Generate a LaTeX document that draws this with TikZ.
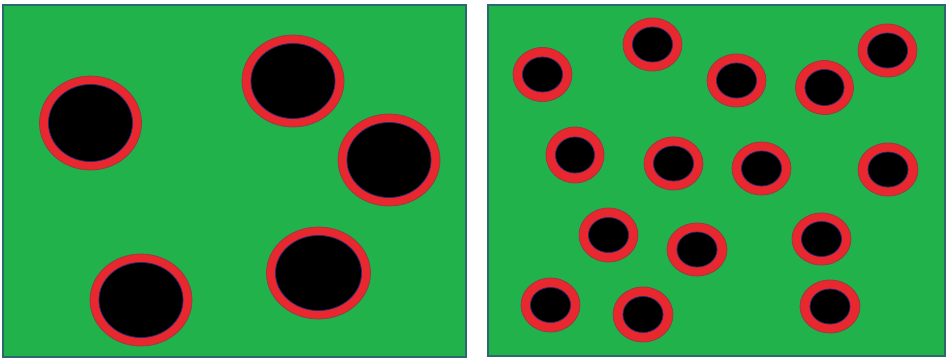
\documentclass[tikz,border=0pt]{standalone}
\definecolor{panelgreen}{RGB}{34,178,76}
\definecolor{paneledge}{RGB}{44,104,112}
\definecolor{ringred}{RGB}{232,40,46}
\definecolor{ringedge}{RGB}{150,60,70}
\definecolor{coreedge}{RGB}{40,40,110}
\begin{document}
\begin{tikzpicture}[x=1pt,y=-1pt,
    panel/.style={fill=panelgreen,draw=paneledge,line width=2pt},
    ring/.style={fill=ringred,draw=ringedge,line width=0.8pt},
    core/.style={fill=black,draw=coreedge,line width=0.8pt}]
    \useasboundingbox[fill=white] (0,0) rectangle (948,360);
    % Panels
    \draw[panel] (3,5) rectangle (466,357);
    \draw[panel] (488,5) rectangle (945,356);
    % Left panel: five large pores
    \draw[ring] (90.5,123) ellipse (51pt and 47pt);
    \draw[core] (90.5,123) ellipse (42pt and 38.5pt);
    \draw[ring] (293,81) ellipse (51pt and 46pt);
    \draw[core] (293,81) ellipse (42pt and 37.5pt);
    \draw[ring] (389,160) ellipse (51pt and 46pt);
    \draw[core] (389,160) ellipse (42pt and 37.5pt);
    \draw[ring] (141,300) ellipse (51pt and 46pt);
    \draw[core] (141,300) ellipse (42pt and 37.5pt);
    \draw[ring] (318.5,273) ellipse (52pt and 46pt);
    \draw[core] (318.5,273) ellipse (43pt and 37.5pt);
    % Right panel: fifteen small pores
    \draw[ring] (542.5,74.5) ellipse (29.5pt and 27pt);
    \draw[core] (542.5,74.5) ellipse (20pt and 17.5pt);
    \draw[ring] (652.5,44.5) ellipse (29.5pt and 26.5pt);
    \draw[core] (652.5,44.5) ellipse (20pt and 17.5pt);
    \draw[ring] (736.5,80.5) ellipse (29.5pt and 26.5pt);
    \draw[core] (736.5,80.5) ellipse (20pt and 17.5pt);
    \draw[ring] (824.5,87.5) ellipse (29pt and 27pt);
    \draw[core] (824.5,87.5) ellipse (19.5pt and 18pt);
    \draw[ring] (887.5,50.5) ellipse (29.5pt and 26.5pt);
    \draw[core] (887.5,50.5) ellipse (20pt and 17.5pt);
    \draw[ring] (575,155) ellipse (29pt and 28pt);
    \draw[core] (575,155) ellipse (19.5pt and 18pt);
    \draw[ring] (673.5,163.5) ellipse (29.5pt and 26.5pt);
    \draw[core] (673.5,163.5) ellipse (20pt and 17.5pt);
    \draw[ring] (761.5,168.5) ellipse (29.5pt and 26.5pt);
    \draw[core] (761.5,168.5) ellipse (20pt and 17.5pt);
    \draw[ring] (888,169.5) ellipse (30pt and 26.5pt);
    \draw[core] (888,169.5) ellipse (20pt and 17.5pt);
    \draw[ring] (608.5,235) ellipse (29.5pt and 27pt);
    \draw[core] (608.5,235) ellipse (20pt and 17.5pt);
    \draw[ring] (697,249.5) ellipse (30pt and 26.5pt);
    \draw[core] (697,249.5) ellipse (20pt and 17.5pt);
    \draw[ring] (821.5,239) ellipse (29.5pt and 26pt);
    \draw[core] (821.5,239) ellipse (20pt and 17.5pt);
    \draw[ring] (550.5,305) ellipse (29.5pt and 27pt);
    \draw[core] (550.5,305) ellipse (20pt and 17.5pt);
    \draw[ring] (643,314.5) ellipse (30pt and 27.5pt);
    \draw[core] (643,314.5) ellipse (20pt and 18pt);
    \draw[ring] (830,306.5) ellipse (30pt and 26.5pt);
    \draw[core] (830,306.5) ellipse (20pt and 17.5pt);
\end{tikzpicture}
\end{document}
